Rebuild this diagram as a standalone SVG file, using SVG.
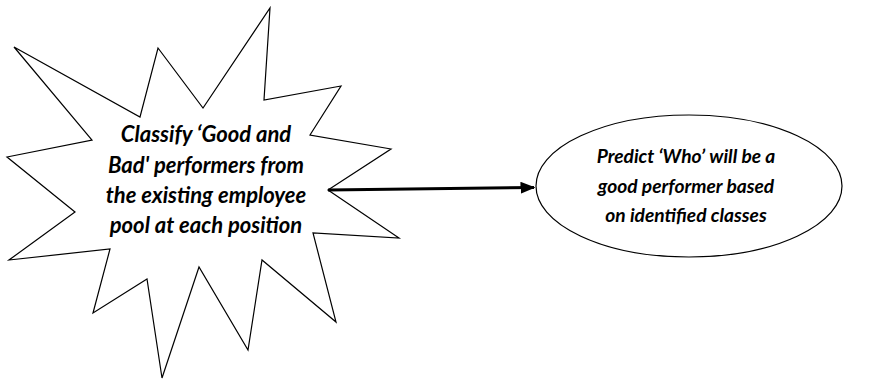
<svg xmlns="http://www.w3.org/2000/svg" width="870" height="381" viewBox="0 0 870 381">
  <style>
    .shape { fill: #ffffff; stroke: #000000; stroke-width: 1.2; }
    .label { font-family: Lato, "Open Sans", "Liberation Sans", sans-serif; font-weight: bold; font-style: italic; fill: #000000; text-anchor: middle; }
    .big { font-size: 22px; }
    .small { font-size: 19.2px; }
    .link { stroke: #000000; stroke-width: 3; fill: none; }
  </style>
  <defs>
    <marker id="arrowhead" markerWidth="5" markerHeight="4" refX="4.5" refY="2" orient="auto" markerUnits="strokeWidth">
      <path d="M0,0 L5,2 L0,4 Z" fill="#000000"/>
    </marker>
  </defs>
  <rect width="870" height="381" fill="#ffffff"/>

  <g id="classify">
    <polygon class="shape" points="14,47 140,117 158,48 203,108 270,8 264,100 341,86 310,135 391,149 328,190 399,238 313,233 336,322 262,260 248,350 199,267 162,378 147,279 93,313 110,249 9,260 75,212 7,157 92,140"/>
    <text class="label big" x="206" y="142">Classify ‘Good and</text>
    <text class="label big" x="206" y="173">Bad' performers from</text>
    <text class="label big" x="206" y="203">the existing employee</text>
    <text class="label big" x="206" y="233">pool at each position</text>
  </g>

  <g id="predict">
    <ellipse class="shape" cx="689" cy="186" rx="153" ry="71"/>
    <text class="label small" x="686" y="163">Predict ‘Who’ will be a</text>
    <text class="label small" x="686" y="193">good performer based</text>
    <text class="label small" x="686" y="222">on identified classes</text>
  </g>

  <g id="connectors">
    <line class="link" x1="328" y1="190" x2="534" y2="187.5" marker-end="url(#arrowhead)"/>
  </g>
</svg>
